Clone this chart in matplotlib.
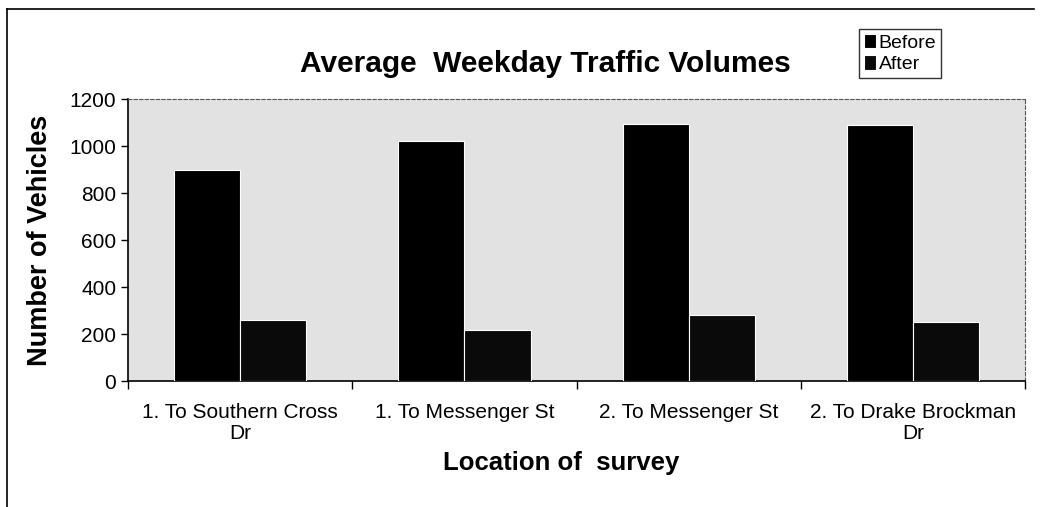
import numpy as np
import matplotlib.pyplot as plt
from matplotlib.lines import Line2D

# ----------------------------------------------
# data

locations = ['1. To Southern Cross\nDr', '1. To Messenger St',
             '2. To Messenger St', '2. To Drake Brockman\nDr']
before = [900, 1020, 1095, 1090]
after = [260, 218, 280, 252]
series_names = ['Before', 'After']

yticks = [0, 200, 400, 600, 800, 1000, 1200]

# ----------------------------------------------

plt.rcParams['font.family'] = ['Liberation Sans', 'DejaVu Sans']

fig = plt.figure(figsize=(10.42, 5.07), dpi=100)
ax = fig.add_axes([0.1228, 0.2485, 0.861, 0.5562])

x = np.arange(len(locations))
width = 0.295

ax.bar(x - width / 2, before, width, color='black', edgecolor='white',
       linewidth=0.8, label=series_names[0], zorder=3)
ax.bar(x + width / 2, after, width, color='#0a0a0a', edgecolor='white',
       linewidth=0.8, label=series_names[1], zorder=3)

ax.set_facecolor('#e2e2e2')
ax.set_xlim(-0.5, len(locations) - 0.5)
ax.set_ylim(0, 1200)
ax.set_yticks(yticks)
ax.tick_params(axis='y', labelsize=15, direction='out', length=5, width=1)

# category labels centred, tick marks on the boundaries
ax.set_xticks(x)
ax.set_xticklabels(locations, fontsize=15, linespacing=1.15)
ax.tick_params(axis='x', length=0, pad=16)
ax.set_xticks(np.arange(len(locations) + 1) - 0.5, minor=True)
ax.tick_params(axis='x', which='minor', length=6, width=1, direction='out')

for side in ['top', 'right']:
    ax.spines[side].set_linestyle((0, (3, 2)))
    ax.spines[side].set_color('#555555')
    ax.spines[side].set_linewidth(0.8)
for side in ['left', 'bottom']:
    ax.spines[side].set_color('black')
    ax.spines[side].set_linewidth(1.2)

ax.set_ylabel('Number of Vehicles', fontsize=19.5, fontweight='bold')
ax.yaxis.set_label_coords(-0.083, 0.5)
ax.set_xlabel('Location of  survey', fontsize=18.5, fontweight='bold')
ax.xaxis.set_label_coords(0.483, -0.248)

fig.text(0.523, 0.874, 'Average  Weekday Traffic Volumes', fontsize=21.5,
         fontweight='bold', ha='center', va='center')

leg = fig.legend(loc='center', bbox_to_anchor=(0.864, 0.895), fontsize=14,
                 frameon=True, fancybox=False, handlelength=0.6,
                 handleheight=0.8, handletextpad=0.15, borderpad=0.25,
                 labelspacing=0.15)
leg.get_frame().set_edgecolor('black')
leg.get_frame().set_linewidth(1.0)

# scanned page frame (top and left edges)
fig.add_artist(Line2D([0.007, 0.992], [0.982, 0.982], color='black', lw=1.2,
                      transform=fig.transFigure))
fig.add_artist(Line2D([0.007, 0.007], [0.0, 0.982], color='black', lw=1.2,
                      transform=fig.transFigure))

fig.savefig('out.png', dpi=100)
